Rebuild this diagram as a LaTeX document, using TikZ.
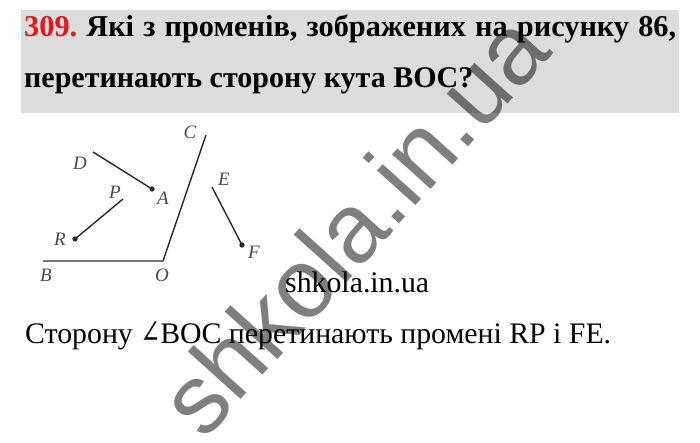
\documentclass[tikz,border=0pt]{standalone}
\usepackage{graphicx}
\usepackage{fontspec}
\setmainfont{Liberation Serif}
\newfontfamily\wmfont{Liberation Sans}
\newfontfamily\angfont{DejaVu Serif}
\definecolor{hdrgray}{RGB}{220,220,220}
\definecolor{numred}{RGB}{226,24,30}
\definecolor{ink}{RGB}{40,40,40}
\tikzset{
  lbl/.style={font=\fontsize{19}{19}\selectfont\itshape, text=ink!85, inner sep=0pt},
  ray/.style={draw=ink, line width=1.4pt},
  txt/.style={anchor=base west, inner sep=0pt},
}
\frenchspacing

\begin{document}
\begin{tikzpicture}[x=1pt,y=-1pt]
\useasboundingbox (0,0) rectangle (700,443);
% task header
\fill[hdrgray] (21,10) rectangle (679,113);
\node[txt, font=\fontsize{30.3}{36}\selectfont\bfseries] (q1) at (24,37)
  {\makebox[652pt][s]{\textcolor{numred}{309.} Які з променів, зображених на рисунку 86,}};
\node[txt, font=\fontsize{30}{36}\selectfont\bfseries] (q2) at (24,88)
  {перетинають сторону кута BOC?};
% points of the figure
\coordinate (B) at (43,261);
\coordinate (O) at (163,261);
\coordinate (C) at (206,135);
\coordinate (D) at (93,152);
\coordinate (A) at (152,189);
\coordinate (P) at (123,199);
\coordinate (R) at (75,239);
\coordinate (E) at (212,187);
\coordinate (F) at (242,245);
\draw[ray] (B) -- (O) -- (C);
\draw[ray] (D) -- (A);
\draw[ray] (R) -- (P);
\draw[ray] (E) -- (F);
\fill[ink] (A) circle (2.7);
\fill[ink] (R) circle (2.7);
\fill[ink] (F) circle (2.7);
\node[lbl] (lC) at (190,132) {C};
\node[lbl] (lD) at (80,163) {D};
\node[lbl] (lP) at (115,192) {P};
\node[lbl] (lA) at (163,198) {A};
\node[lbl] (lR) at (60,239) {R};
\node[lbl] (lE) at (224,179) {E};
\node[lbl] (lF) at (254,252) {F};
\node[lbl] (lB) at (46,275) {B};
\node[lbl] (lO) at (162,275) {O};
% answer
\node[txt, font=\fontsize{29.8}{36}\selectfont] (src) at (285,292) {shkola.in.ua};
\node[txt, font=\fontsize{29.8}{36}\selectfont] (ans) at (25,343)
  {Сторону \scalebox{0.8}[1.1]{\angfont ∠}BOC перетинають промені RP і FE.};
% watermark
\node[anchor=base, rotate=48, inner sep=0pt, text=black, text opacity=0.5,
  font=\wmfont\fontsize{98}{98}\selectfont] (wm) at (379,247) {shkola.in.ua};
\end{tikzpicture}
\end{document}
